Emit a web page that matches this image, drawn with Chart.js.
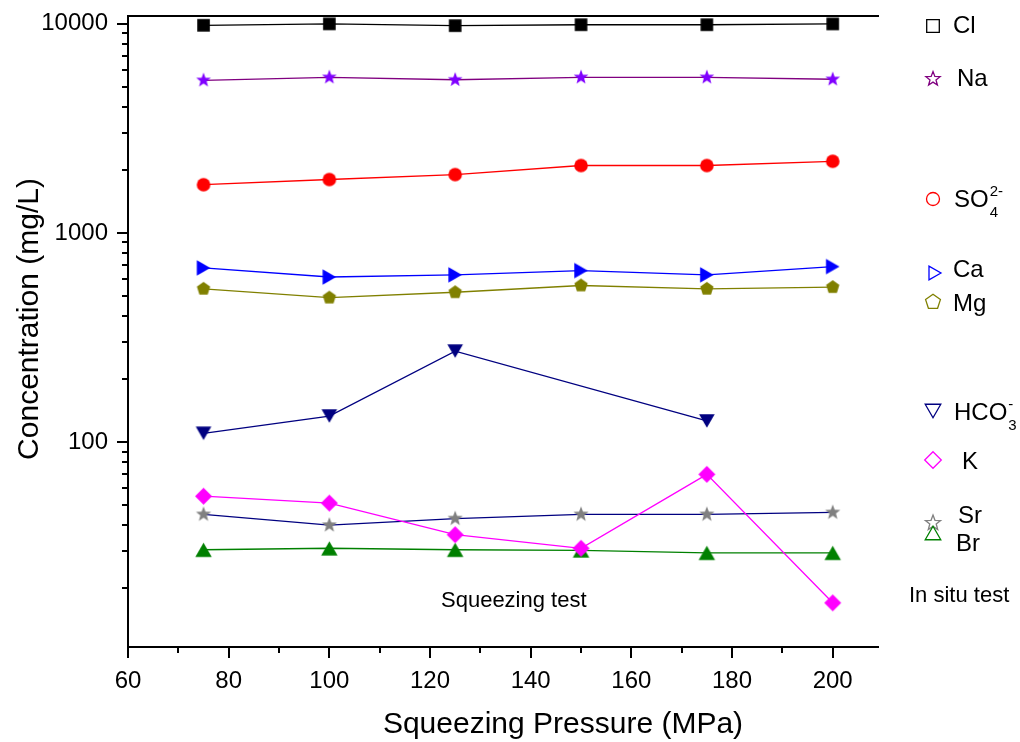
<!DOCTYPE html>
<html>
<head>
<meta charset="utf-8">
<title>Concentration vs squeezing pressure</title>
<script src="https://cdn.jsdelivr.net/npm/chart.js@4.4.1/dist/chart.umd.min.js"></script>
<style>
  html, body { margin: 0; padding: 0; background: #fff; }
  #wrap { width: 1020px; height: 742px; }
</style>
</head>
<body>
<div id="wrap"><canvas id="chart" width="1020" height="742"></canvas></div>
<script>
// squeezing pressure (MPa)
const pressure = [75, 100, 125, 150, 175, 200];

// concentrations (mg/L)
const cl = [9840, 10000, 9800, 9900, 9900, 9990];
const na = [5370, 5550, 5400, 5550, 5550, 5430];
const so4 = [1700, 1800, 1900, 2100, 2100, 2200];
const ca = [680, 615, 630, 660, 630, 690];
const mg = [540, 490, 520, 560, 540, 550];
const hco3 = [110, 133, 272, null, 126, null];
const k = [55, 51, 36, 31, 70, 17];
const sr = [45, 40, 43, 45, 45, 46];
const br = [30.5, 31, 30.5, 30.3, 29.5, 29.5];

const xTicks = [60, 80, 100, 120, 140, 160, 180, 200];
const yTicks = [100, 1000, 10000];

const FONT = '"Liberation Sans", Arial, sans-serif';

// outline of a marker shape centred on (x, y)
function shapePath(ctx, shape, x, y, r) {
  ctx.beginPath();
  if (shape === "square") {
    ctx.rect(x - r, y - r, 2 * r, 2 * r);
  } else if (shape === "circle") {
    ctx.arc(x, y, r, 0, Math.PI * 2);
  } else if (shape === "diamond") {
    ctx.moveTo(x, y - r);
    ctx.lineTo(x + r, y);
    ctx.lineTo(x, y + r);
    ctx.lineTo(x - r, y);
  } else {
    let n = 3, rot = -Math.PI / 2, inner = 0;
    let cx = x, cy = y;
    if (shape === "star") { n = 5; inner = 0.42; }
    if (shape === "pentagon") n = 5;
    // triangles are centred on their bounding box, not the centroid
    if (shape === "triUp") cy = y + r / 4;
    if (shape === "triDown") { rot = Math.PI / 2; cy = y - r / 4; }
    if (shape === "triRight") { rot = 0; cx = x - r / 4; }
    const steps = inner ? n * 2 : n;
    for (let i = 0; i < steps; i++) {
      const a = rot + (i * 2 * Math.PI) / steps;
      const rr = inner && i % 2 ? r * inner : r;
      const px = cx + Math.cos(a) * rr, py = cy + Math.sin(a) * rr;
      if (i) ctx.lineTo(px, py); else ctx.moveTo(px, py);
    }
  }
  ctx.closePath();
}

// filled marker as a small canvas, used as pointStyle
function marker(shape, color, r) {
  const c = document.createElement("canvas");
  const s = Math.ceil(r * 2 + 4);
  c.width = c.height = s;
  const g = c.getContext("2d");
  shapePath(g, shape, s / 2, s / 2, r);
  g.fillStyle = color;
  g.fill();
  return c;
}

function series(label, values, line, shape, fill, r) {
  return {
    label,
    data: pressure.map((p, i) => ({ x: p, y: values[i] })),
    borderColor: line,
    backgroundColor: fill,
    borderWidth: 1.3,
    pointStyle: marker(shape, fill, r),
    pointRadius: r,
    spanGaps: true,
    clip: false,
  };
}

// right-hand key: hollow symbols with ion names
const legendItems = [
  { shape: "square", color: "#000000", r: 6.3, x: 933, y: 26, text: "Cl", tx: 953, ty: 33 },
  { shape: "star", color: "#800080", r: 7.5, x: 933, y: 79, text: "Na", tx: 957, ty: 86 },
  { shape: "circle", color: "#ff0000", r: 6.5, x: 933, y: 199, text: "SO", sup: "2-", sub: "4", tx: 954, ty: 206.5 },
  { shape: "triRight", color: "#0000ff", r: 8, x: 935, y: 273, text: "Ca", tx: 953, ty: 277 },
  { shape: "pentagon", color: "#808000", r: 7.8, x: 933, y: 302, text: "Mg", tx: 953, ty: 311 },
  { shape: "triDown", color: "#000080", r: 9, x: 933, y: 411, text: "HCO", sup: "-", sub: "3", tx: 954, ty: 420 },
  { shape: "diamond", color: "#ff00ff", r: 8.3, x: 933, y: 460, text: "K", tx: 962, ty: 469 },
  { shape: "star", color: "#808080", r: 8, x: 933, y: 523, text: "Sr", tx: 958, ty: 523 },
  { shape: "triUp", color: "#008000", r: 9, x: 933, y: 533, text: "Br", tx: 956, ty: 551 },
];

const frame = {
  id: "frame",
  afterDraw(chart) {
    const { ctx, chartArea: a, scales: { x, y } } = chart;
    ctx.save();
    ctx.strokeStyle = "#000";
    ctx.lineWidth = 2;
    ctx.lineCap = "square";
    ctx.beginPath();
    ctx.moveTo(a.right, a.top);
    ctx.lineTo(a.left, a.top);
    ctx.lineTo(a.left, a.bottom);
    ctx.lineTo(a.right, a.bottom);
    ctx.stroke();

    // tick marks, long for labelled values, short in between
    ctx.lineCap = "butt";
    ctx.beginPath();
    xTicks.forEach((v) => {
      [[v, 11], [v + 10, 6]].forEach(([t, len]) => {
        if (t > x.max) return;
        const px = Math.round(x.getPixelForValue(t));
        ctx.moveTo(px, a.bottom);
        ctx.lineTo(px, a.bottom + len);
      });
    });
    for (let e = 1; e <= 4; e++) {
      for (let m = 1; m <= 9; m++) {
        const v = m * Math.pow(10, e);
        if (v < y.min || v > y.max) continue;
        const py = Math.round(y.getPixelForValue(v));
        ctx.moveTo(a.left, py);
        ctx.lineTo(a.left - (m === 1 ? 11 : 6), py);
      }
    }
    ctx.stroke();

    // axis titles
    ctx.fillStyle = "#000";
    ctx.font = "30px " + FONT;
    ctx.textAlign = "center";
    ctx.textBaseline = "alphabetic";
    ctx.fillText("Squeezing Pressure (MPa)", 563, 733);
    ctx.save();
    ctx.translate(38, 319);
    ctx.rotate(-Math.PI / 2);
    ctx.fillText("Concentration (mg/L)", 0, 0);
    ctx.restore();

    ctx.textAlign = "left";
    ctx.font = "22px " + FONT;
    ctx.fillText("Squeezing test", 441, 606.5);
    ctx.fillText("In situ test", 909, 602);

    // key
    legendItems.forEach((it) => {
      shapePath(ctx, it.shape, it.x, it.y, it.r);
      ctx.strokeStyle = it.color;
      ctx.lineWidth = 1.3;
      ctx.stroke();
      ctx.fillStyle = "#000";
      ctx.font = "24px " + FONT;
      ctx.fillText(it.text, it.tx, it.ty);
      const w = ctx.measureText(it.text).width;
      ctx.font = "15px " + FONT;
      if (it.sup) ctx.fillText(it.sup, it.tx + w + 1, it.ty - 11);
      if (it.sub) ctx.fillText(it.sub, it.tx + w + 1, it.ty + 10);
    });
    ctx.restore();
  },
};

const tickFont = { family: FONT, size: 24 };

new Chart(document.getElementById("chart"), {
  type: "line",
  data: {
    datasets: [
      series("Cl", cl, "#000000", "square", "#000000", 6.3),
      series("Na", na, "#800080", "star", "#8000ff", 7.7),
      series("SO4", so4, "#ff0000", "circle", "#ff0000", 6.8),
      series("Ca", ca, "#0000ff", "triRight", "#0000ff", 9),
      series("Mg", mg, "#808000", "pentagon", "#808000", 7),
      series("HCO3", hco3, "#000080", "triDown", "#000080", 9),
      series("K", k, "#ff00ff", "diamond", "#ff00ff", 8.5),
      series("Sr", sr, "#000080", "star", "#808080", 8),
      series("Br", br, "#008000", "triUp", "#008000", 9.5),
    ],
  },
  options: {
    responsive: false,
    animation: false,
    events: [],
    layout: { padding: { top: 16, right: 142, left: 0, bottom: 0 } },
    plugins: { legend: { display: false }, tooltip: { enabled: false } },
    scales: {
      x: {
        type: "linear",
        min: 60,
        max: 209,
        grid: { display: false, drawTicks: false },
        border: { display: false },
        afterBuildTicks: (s) => { s.ticks = xTicks.map((v) => ({ value: v })); },
        afterFit: (s) => { s.height = 95; s.paddingLeft = 0; s.paddingRight = 0; },
        ticks: { font: tickFont, color: "#000", padding: 20, maxRotation: 0, autoSkip: false },
      },
      y: {
        type: "logarithmic",
        min: 10.45,
        max: 10900,
        grid: { display: false, drawTicks: false },
        border: { display: false },
        afterBuildTicks: (s) => { s.ticks = yTicks.map((v) => ({ value: v })); },
        afterFit: (s) => { s.width = 128; s.paddingTop = 0; s.paddingBottom = 0; },
        ticks: { font: tickFont, color: "#000", padding: 20, callback: (v) => String(v) },
      },
    },
  },
  plugins: [frame],
});
</script>
</body>
</html>
